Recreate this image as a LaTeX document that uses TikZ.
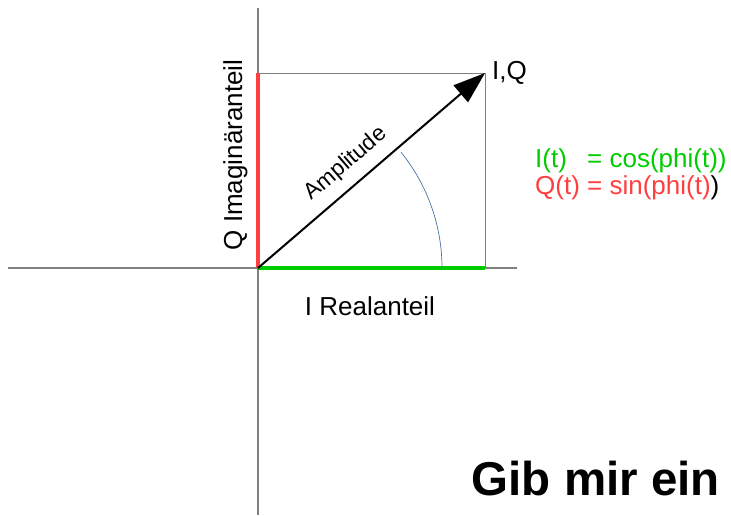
\documentclass[tikz,border=0pt]{standalone}
\usepackage{fontspec}
\setmainfont{Liberation Sans}
\usetikzlibrary{arrows.meta,positioning}
\definecolor{igreen}{HTML}{00CC00}
\definecolor{qred}{HTML}{FF3F3F}
\definecolor{arcblue}{HTML}{4A72A8}
\definecolor{axisgray}{HTML}{808080}
\tikzset{
  lbl/.style={font=\fontsize{26}{28}\selectfont, inner sep=0pt},
  axisline/.style={axisgray, line width=1.5pt},
  boxline/.style={axisgray, line width=1pt},
}

\begin{document}
\begin{tikzpicture}[x=1pt, y=-1pt, >=stealth]
  \useasboundingbox (0,0) rectangle (731,515);
  \coordinate (O) at (258,268);
  \coordinate (P) at (485,73);
  \coordinate (Px) at (485,268);
  \coordinate (Py) at (258,73);
  \coordinate (xl) at (8,268);
  \coordinate (xr) at (517,268);
  \coordinate (yt) at (258,8);
  \coordinate (yb) at (258,515);
  % axes and box
  \draw[axisline] (xl) -- (xr);
  \draw[axisline] (yt) -- (yb);
  \draw[boxline] (Py) -- (P) -- (Px);
  \draw[qred, line width=4pt] (O) -- (Py);
  \draw[igreen, line width=4pt] (O) -- (Px);
  % angle
  \draw[arcblue, line width=0.7pt] (442,268) arc[start angle=0, end angle=-39, radius=184];
  % pointer
  \draw[-{Triangle[length=32pt,width=22pt]}, line width=2pt] (O) -- (P)
    node[pos=0.45, sloped, above=8pt, inner sep=2pt, font=\fontsize{22.5}{24}\selectfont] (amp) {Amplitude};
  \node[lbl, anchor=base west] (iq) at (492,79) {I,Q};
  \node[lbl, rotate=90, anchor=base] (qlab) at (242,155) {Q Imaginäranteil};
  \node[lbl, anchor=base] (ilab) at (370,315) {I Realanteil};
  \node[lbl, anchor=base west, text=igreen] (eqi) at (535,167) {\rlap{I(t)}\hphantom{Q(t)} = cos(phi(t))};
  \node[lbl, anchor=base west] (eqq) at (535,194) {\textcolor{qred}{Q(t) = sin(phi(t)})};
  \node[font=\bfseries\fontsize{47.5}{50}\selectfont, inner sep=0pt, anchor=base east] (gib) at (720,495) {Gib mir ein};
\end{tikzpicture}
\end{document}
